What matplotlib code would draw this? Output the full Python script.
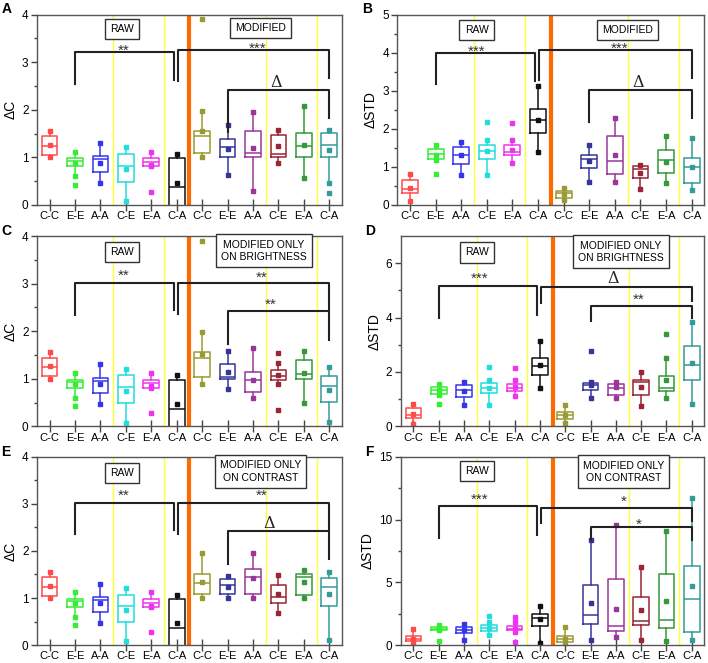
import matplotlib.pyplot as plt
import numpy as np

plt.rcParams['font.family'] = ['Liberation Sans', 'DejaVu Sans']

# categories
cats = ['C-C', 'E-E', 'A-A', 'C-E', 'E-A', 'C-A'] * 2
raw_colors = ['#ff4a4a', '#33ee33', '#3535ee', '#22dddd', '#ee33ee', '#111111']
mod_colors = ['#9a9a33', '#35359a', '#9a359a', '#9a2535', '#35993a', '#359a9a']

# raw delta C (panels A, C, E)
rawc_lo = [1.00, 0.60, 0.47, 0.08, 0.81, -0.30]
rawc_q1 = [1.05, 0.81, 0.70, 0.49, 0.81, -0.10]
rawc_med = [1.24, 0.93, 0.96, 0.82, 0.90, 0.37]
rawc_q3 = [1.44, 0.98, 1.02, 1.07, 0.98, 0.98]
rawc_hi = [1.56, 1.12, 1.30, 1.21, 1.12, 1.07]
rawc_mean = [1.26, 0.89, 0.89, 0.75, 0.84, 0.47]
rawc_out = [[], [0.42], [], [], [0.28], []]

# raw delta STD (panels B, D)
raws_lo = [0.09, 1.17, 0.79, 0.79, 1.10, 1.40]
raws_q1 = [0.31, 1.20, 1.08, 1.21, 1.30, 1.89]
raws_med = [0.41, 1.33, 1.32, 1.42, 1.40, 2.22]
raws_q3 = [0.66, 1.46, 1.52, 1.58, 1.57, 2.52]
raws_hi = [0.81, 1.56, 1.64, 1.71, 1.71, 3.13]
raws_mean = [0.44, 1.32, 1.30, 1.42, 1.45, 2.24]
raws_out = [[], [0.82], [], [2.19], [2.15], []]

# raw delta STD (panel F)
rawf_lo = [0.13, 1.18, 0.39, 0.79, 1.05, 0.13]
rawf_q1 = [0.34, 1.18, 1.00, 1.15, 1.18, 1.49]
rawf_med = [0.47, 1.31, 1.23, 1.39, 1.31, 2.15]
rawf_q3 = [0.73, 1.41, 1.44, 1.57, 1.49, 2.49]
rawf_hi = [1.31, 1.57, 1.65, 1.83, 1.83, 3.14]
rawf_mean = [0.45, 1.31, 1.23, 1.39, 1.36, 2.04]
rawf_out = [[], [0.34], [], [2.28], [2.22, 0.26], []]

# modified, panel A
a_lo = [1.00, 0.63, 0.29, 0.88, 0.56, 0.45]
a_q1 = [1.09, 1.00, 1.00, 1.00, 1.00, 1.00]
a_med = [1.44, 1.21, 1.09, 1.07, 1.23, 1.25]
a_q3 = [1.56, 1.38, 1.55, 1.47, 1.52, 1.52]
a_hi = [1.98, 1.67, 1.95, 1.58, 2.07, 1.58]
a_mean = [1.56, 1.18, 1.19, 1.23, 1.26, 1.16]
a_out = [[3.9], [], [], [], [], [0.24]]

# modified, panel B
b_lo = [0.13, 0.61, 0.61, 0.41, 0.57, 0.39]
b_q1 = [0.19, 0.98, 0.82, 0.70, 0.85, 0.57]
b_med = [0.31, 1.20, 1.14, 0.94, 1.17, 0.99]
b_q3 = [0.37, 1.31, 1.82, 1.01, 1.43, 1.23]
b_hi = [0.44, 1.56, 2.28, 1.04, 1.82, 1.75]
b_mean = [0.29, 1.14, 1.32, 0.83, 1.13, 0.99]
b_out = [[], [], [], [], [], []]

# modified only on brightness, panel C
c_lo = [0.88, 0.79, 0.60, 0.88, 0.49, 0.10]
c_q1 = [1.03, 1.00, 0.72, 0.98, 1.00, 0.52]
c_med = [1.44, 1.04, 0.98, 1.05, 1.11, 0.84]
c_q3 = [1.56, 1.31, 1.14, 1.19, 1.40, 1.05]
c_hi = [1.98, 1.59, 1.65, 1.33, 1.59, 1.25]
c_mean = [1.53, 1.14, 0.98, 1.07, 1.12, 0.77]
c_out = [[3.9], [], [], [1.54, 0.34], [], []]

# modified only on brightness, panel D
d_lo = [0.12, 1.04, 1.04, 0.73, 1.04, 0.82]
d_q1 = [0.28, 1.32, 1.14, 1.14, 1.31, 1.71]
d_med = [0.40, 1.53, 1.41, 1.63, 1.41, 2.24]
d_q3 = [0.53, 1.59, 1.55, 1.71, 1.84, 2.94]
d_hi = [0.80, 1.62, 1.62, 1.98, 2.53, 3.84]
d_mean = [0.43, 1.53, 1.44, 1.44, 1.69, 2.33]
d_out = [[], [2.77], [], [], [3.39], []]

# modified only on contrast, panel E
e_lo = [1.00, 1.00, 1.00, 0.68, 1.00, 0.10]
e_q1 = [1.09, 1.09, 1.09, 0.90, 1.07, 0.84]
e_med = [1.32, 1.28, 1.45, 1.03, 1.44, 1.23]
e_q3 = [1.52, 1.40, 1.61, 1.28, 1.52, 1.42]
e_hi = [1.95, 1.47, 1.96, 1.49, 1.59, 1.56]
e_mean = [1.35, 1.24, 1.42, 1.09, 1.33, 1.09]
e_out = [[], [], [], [], [], []]

# modified only on contrast, panel F
f_lo = [0.08, 0.39, 0.65, 0.39, 0.31, 0.39]
f_q1 = [0.26, 1.65, 1.13, 1.57, 1.39, 1.05]
f_med = [0.47, 2.36, 1.49, 1.91, 2.02, 3.66]
f_q3 = [0.71, 4.76, 5.29, 3.80, 5.63, 6.34]
f_hi = [1.44, 8.38, 9.55, 6.20, 9.08, 11.70]
f_mean = [0.47, 3.32, 2.88, 2.80, 3.51, 4.71]
f_out = [[], [], [], [], [], []]

raw_c = (rawc_lo, rawc_q1, rawc_med, rawc_q3, rawc_hi, rawc_mean, rawc_out)
raw_s = (raws_lo, raws_q1, raws_med, raws_q3, raws_hi, raws_mean, raws_out)
raw_f = (rawf_lo, rawf_q1, rawf_med, rawf_q3, rawf_hi, rawf_mean, rawf_out)

# (x1, x2, y_top, y_left_end, y_right_end, label, label_x, label_y)
# label_y: bottom of the asterisks, or centre of the delta
brk_a = [(2, 5.9, 3.21, 2.55, 2.62, '**', 3.9, 3.23),
         (6.05, 12, 3.26, 2.6, 2.67, '***', 9.2, 3.28),
         (8, 12, 2.42, 1.54, 1.82, 'Δ', 9.9, 2.58)]
brk_b = [(2, 5.9, 4.0, 3.18, 3.26, '***', 3.6, 4.02),
         (6.05, 12, 4.08, 3.29, 3.33, '***', 9.2, 4.1),
         (8, 12, 3.03, 2.19, 2.28, 'Δ', 9.9, 3.22)]
brk_c = [(2, 5.9, 3.02, 2.35, 2.44, '**', 3.9, 3.16),
         (6.05, 12, 3.02, 2.36, 2.44, '**', 9.35, 3.13),
         (8, 12, 2.42, 1.72, 1.82, '**', 9.7, 2.56)]
brk_d = [(2, 5.9, 5.17, 3.98, 4.1, '***', 3.6, 5.42),
         (6.05, 12, 5.12, 4.53, 4.61, 'Δ', 8.9, 5.42),
         (8, 12, 4.41, 3.88, 3.98, '**', 9.9, 4.65)]
brk_e = [(2, 5.9, 3.02, 2.35, 2.44, '**', 3.9, 3.16),
         (6.05, 12, 3.02, 2.36, 2.44, '**', 9.35, 3.16),
         (8, 12, 2.42, 1.72, 1.82, 'Δ', 9.65, 2.58)]
brk_f = [(2, 5.9, 11.05, 8.5, 8.77, '***', 3.6, 11.6),
         (6.05, 12, 10.94, 9.74, 9.87, '*', 9.3, 11.4),
         (8, 12, 9.42, 8.38, 8.38, '*', 9.9, 9.55)]

panels = [
    ('A', 'ΔC', 4, 1, raw_c, (a_lo, a_q1, a_med, a_q3, a_hi, a_mean, a_out), brk_a, 'MODIFIED', (3.86, 3.7), (9.3, 3.72)),
    ('B', 'ΔSTD', 5, 1, raw_s, (b_lo, b_q1, b_med, b_q3, b_hi, b_mean, b_out), brk_b, 'MODIFIED', (3.6, 4.6), (9.5, 4.6)),
    ('C', 'ΔC', 4, 1, raw_c, (c_lo, c_q1, c_med, c_q3, c_hi, c_mean, c_out), brk_c, 'MODIFIED ONLY\nON BRIGHTNESS', (3.86, 3.66), (9.42, 3.69)),
    ('D', 'ΔSTD', 7, 2, raw_s, (d_lo, d_q1, d_med, d_q3, d_hi, d_mean, d_out), brk_d, 'MODIFIED ONLY\nON BRIGHTNESS', (3.5, 6.4), (9.2, 6.42)),
    ('E', 'ΔC', 4, 1, raw_c, (e_lo, e_q1, e_med, e_q3, e_hi, e_mean, e_out), brk_e, 'MODIFIED ONLY\nON CONTRAST', (3.86, 3.66), (9.3, 3.69)),
    ('F', 'ΔSTD', 15, 5, raw_f, (f_lo, f_q1, f_med, f_q3, f_hi, f_mean, f_out), brk_f, 'MODIFIED ONLY\nON CONTRAST', (3.5, 13.85), (9.3, 13.8)),
]

# axes rects in figure fraction
rects = [(0.052, 0.691, 0.431, 0.287), (0.561, 0.691, 0.434, 0.287),
         (0.052, 0.357, 0.431, 0.287), (0.566, 0.357, 0.429, 0.287),
         (0.052, 0.027, 0.431, 0.284), (0.566, 0.027, 0.429, 0.284)]

fig = plt.figure(figsize=(7.08, 6.63), dpi=100)

for (letter, ylab, ytop, ystep, raw, mod, brks, modtxt, rawpos, modpos), rect in zip(panels, rects):
    ax = fig.add_axes(rect)
    lo, q1, med, q3, hi, mean, out = [r + m for r, m in zip(raw, mod)]
    colors = raw_colors + mod_colors
    pos = np.arange(1, 13)

    for x in [3.5, 5.5, 9.5, 11.5]:
        ax.axvline(x, color='#ffff33', lw=1, zorder=1)
    ax.axvline(6.5, color='#ff6a00', lw=3, zorder=1)

    stats = [dict(whislo=lo[i], q1=q1[i], med=med[i], q3=q3[i], whishi=hi[i], fliers=[]) for i in range(12)]
    bp = ax.bxp(stats, positions=pos, widths=0.62, showcaps=False, showfliers=False,
                patch_artist=False, manage_ticks=False)
    for i in range(12):
        c = colors[i]
        bp['boxes'][i].set(color=c, lw=1.1)
        bp['medians'][i].set(color=c, lw=1.1)
        bp['whiskers'][2 * i].set(color=c, lw=1.1)
        bp['whiskers'][2 * i + 1].set(color=c, lw=1.1)
        ax.plot([pos[i], pos[i]], [lo[i], hi[i]], ls='none', marker='s', ms=2.2, color=c)
        ax.plot(pos[i], mean[i], ls='none', marker='s', ms=2.4, color=c)
        for v in out[i]:
            ax.plot(pos[i], v, ls='none', marker='s', ms=2.2, color=c)

    for x1, x2, yt, yl, yr, lab, lx, ly in brks:
        ax.plot([x1, x1, x2, x2], [yl, yt, yt, yr], color='#222222', lw=1.5, zorder=3)
        if lab == 'Δ':
            ax.text(lx, ly, lab, ha='center', va='center', fontsize=11.5, family='DejaVu Serif',
                    color='#222222', zorder=6)
        else:
            # asterisk glyphs sit high in the line, shift baseline down a bit
            ax.annotate(lab, xy=(lx, ly), xytext=(0, -2.8), textcoords='offset points',
                        ha='center', va='baseline', fontsize=11, color='#333333', zorder=6)

    ax.text(rawpos[0], rawpos[1], 'RAW', ha='center', va='center', fontsize=7.5,
            bbox=dict(boxstyle='square,pad=0.5', fc='white', ec='#333333', lw=1))
    ax.text(modpos[0], modpos[1], modtxt, ha='center', va='center', fontsize=7.5, linespacing=1.3,
            bbox=dict(boxstyle='square,pad=0.5', fc='white', ec='#333333', lw=1))

    ax.set_xlim(0.5, 12.5)
    ax.set_ylim(0, ytop)
    ax.set_xticks(pos)
    ax.set_xticklabels(cats, fontsize=8)
    ax.set_yticks(np.arange(0, ytop + 0.01, ystep))
    ax.set_yticks(np.arange(ystep / 2, ytop, ystep), minor=True)
    ax.tick_params(axis='x', direction='inout', length=8, width=1, color='#444444', pad=0.5)
    ax.tick_params(axis='y', which='major', direction='out', length=4, width=1, color='#444444', labelsize=8.5, pad=2)
    ax.tick_params(axis='y', which='minor', direction='out', length=2.5, width=1, color='#444444')
    for s in ax.spines.values():
        s.set_color('#555555')
        s.set_linewidth(1)
    ax.set_ylabel(ylab, fontsize=10, labelpad=3)

    fig.text(rect[0] - 0.05, rect[1] + rect[3] + 0.008, letter,
             fontsize=10, fontweight='bold', ha='left', va='center')

fig.savefig('out.png', dpi=100)
